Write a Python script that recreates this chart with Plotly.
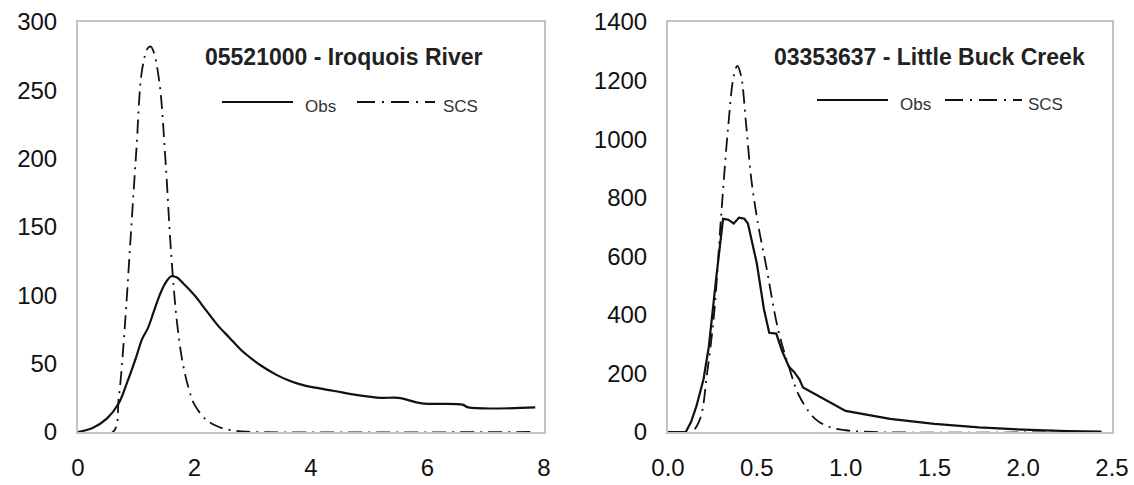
import plotly.graph_objects as go

# ---------------- data ----------------
# Left panel: 05521000 - Iroquois River
obs1_t = [0, 0.25, 0.5, 0.7, 0.85, 1.0, 1.1, 1.2, 1.3, 1.4, 1.5, 1.6, 1.7, 1.8, 2.0, 2.2, 2.4,
          2.6, 2.8, 3.0, 3.2, 3.4, 3.6, 3.8, 4.0, 4.4, 4.8, 5.2, 5.5, 5.9, 6.6, 6.7, 7.85]
obs1_q = [0, 3, 10, 21, 37, 55, 68, 76, 88, 100, 109, 114, 113, 109, 100, 89, 78,
          69, 60, 53, 47, 42, 38, 35, 33, 30, 27, 25, 25, 21, 20, 18, 18]
scs1_t = [0, 0.6, 0.7, 0.8, 0.9, 1.0, 1.1, 1.2, 1.25, 1.3, 1.4, 1.5, 1.6, 1.7, 1.8, 1.9,
          2.0, 2.2, 2.4, 2.6, 2.8, 3.0, 7.85]
scs1_q = [0, 0, 25, 75, 140, 205, 265, 281, 282, 278, 255, 200, 130, 80, 50, 32,
          20, 9, 4, 1.5, 0.5, 0, 0]

# Right panel: 03353637 - Little Buck Creek
obs2_t = [0, 0.10, 0.13, 0.16, 0.20, 0.23, 0.27, 0.30, 0.31, 0.34, 0.37, 0.40, 0.43, 0.45,
          0.50, 0.54, 0.57, 0.61, 0.64, 0.68, 0.71, 0.74, 0.76, 0.85, 1.0, 1.25, 1.5,
          1.75, 2.0, 2.25, 2.44]
obs2_q = [0, 0, 35, 88, 180, 292, 518, 690, 728, 725, 712, 732, 728, 712,
          576, 420, 339, 336, 280, 224, 205, 180, 152, 122, 72, 45, 28,
          16, 8, 3, 1]
scs2_t = [0, 0.13, 0.18, 0.22, 0.26, 0.30, 0.34, 0.37, 0.39, 0.41, 0.44, 0.47, 0.51, 0.55,
          0.62, 0.68, 0.74, 0.83, 0.91, 1.0, 1.15, 2.44]
scs2_q = [0, 0, 44, 200, 407, 745, 1050, 1215, 1250, 1220, 1050, 858, 700, 576,
          350, 224, 122, 44, 17, 6, 0, 0]

titles = ["05521000 - Iroquois River", "03353637 - Little Buck Creek"]
series_names = ["Obs", "SCS"]

x1_ticks = [0, 2, 4, 6, 8]
x2_ticks = [0.0, 0.5, 1.0, 1.5, 2.0, 2.5]
y1_ticks = [0, 50, 100, 150, 200, 250, 300]
y2_ticks = [0, 200, 400, 600, 800, 1000, 1200, 1400]

# ---------------- layout helpers ----------------
W, H = 1134, 485
def px(x):
    return x / W
def py(y):
    return (H - y) / H

DASHDOT = "14px,6px,2px,6px"
LEG_DASHDOT = "18px,7px,2px,7px"
solid = dict(color="#111111", width=2.2)
dashed = dict(color="#111111", width=1.8, dash=DASHDOT)

fig = go.Figure()
fig.add_trace(go.Scatter(x=obs1_t, y=obs1_q, mode="lines", line=solid, name=series_names[0],
                         showlegend=False, xaxis="x", yaxis="y", line_shape="spline"))
fig.add_trace(go.Scatter(x=scs1_t, y=scs1_q, mode="lines", line=dashed, name=series_names[1],
                         showlegend=False, xaxis="x", yaxis="y", line_shape="spline"))
fig.add_trace(go.Scatter(x=obs2_t, y=obs2_q, mode="lines", line=solid, name=series_names[0],
                         showlegend=False, xaxis="x2", yaxis="y2"))
fig.add_trace(go.Scatter(x=scs2_t, y=scs2_q, mode="lines", line=dashed, name=series_names[1],
                         showlegend=False, xaxis="x2", yaxis="y2", line_shape="spline"))

tickfont = dict(family="Liberation Sans, Arial, sans-serif", size=24, color="#111111")
axis_common = dict(showgrid=False, zeroline=False, showline=True, mirror=True,
                   linecolor="#c4c4c4", linewidth=2, ticks="", tickfont=tickfont,
                   automargin=False, fixedrange=True)

ydom = [py(432), py(22)]
fig.update_layout(
    width=W, height=H, margin=dict(l=0, r=0, t=0, b=0, autoexpand=False),
    paper_bgcolor="white", plot_bgcolor="white",
    xaxis=dict(domain=[px(78), px(544)], range=[0, 8], tickvals=x1_ticks,
               ticktext=[str(v) for v in x1_ticks], ticklabelstandoff=13,
               anchor="y", **axis_common),
    yaxis=dict(domain=ydom, range=[0, 300], tickvals=y1_ticks, ticklabelstandoff=14,
               anchor="x", **axis_common),
    xaxis2=dict(domain=[px(668), px(1112)], range=[0, 2.5], tickvals=x2_ticks,
                ticktext=["%.1f" % v for v in x2_ticks], ticklabelstandoff=13,
                anchor="y2", **axis_common),
    yaxis2=dict(domain=ydom, range=[0, 1400], tickvals=y2_ticks, ticklabelstandoff=14,
                anchor="x2", **axis_common),
    showlegend=False,
)

titlefont = dict(family="Liberation Sans, Arial, sans-serif", size=23, color="#222222")
fig.add_annotation(x=px(343), y=py(57), xref="paper", yref="paper", text="<b>%s</b>" % titles[0],
                   showarrow=False, font=titlefont, xanchor="center", yanchor="middle")
fig.add_annotation(x=px(929), y=py(57), xref="paper", yref="paper", text="<b>%s</b>" % titles[1],
                   showarrow=False, font=titlefont, xanchor="center", yanchor="middle")

# manual legends
legfont = dict(family="Liberation Sans Narrow, Liberation Sans, Arial, sans-serif", size=17, color="#333333")
def legend(ly, s0, s1, t0, d0, d1, t1):
    fig.add_shape(type="line", xref="paper", yref="paper", x0=px(s0), x1=px(s1),
                  y0=py(ly), y1=py(ly), line=dict(color="#111111", width=2.2))
    fig.add_annotation(x=px(t0), y=py(ly + 4), xref="paper", yref="paper", text=series_names[0],
                       showarrow=False, font=legfont, xanchor="left", yanchor="middle")
    fig.add_shape(type="line", xref="paper", yref="paper", x0=px(d0), x1=px(d1),
                  y0=py(ly), y1=py(ly), line=dict(color="#111111", width=1.8, dash=LEG_DASHDOT))
    fig.add_annotation(x=px(t1), y=py(ly + 4), xref="paper", yref="paper", text=series_names[1],
                       showarrow=False, font=legfont, xanchor="left", yanchor="middle")

legend(102, 222, 293, 303, 357, 435, 441)
legend(100, 817, 888, 898, 945, 1022, 1026)

fig.write_html("out.html")
